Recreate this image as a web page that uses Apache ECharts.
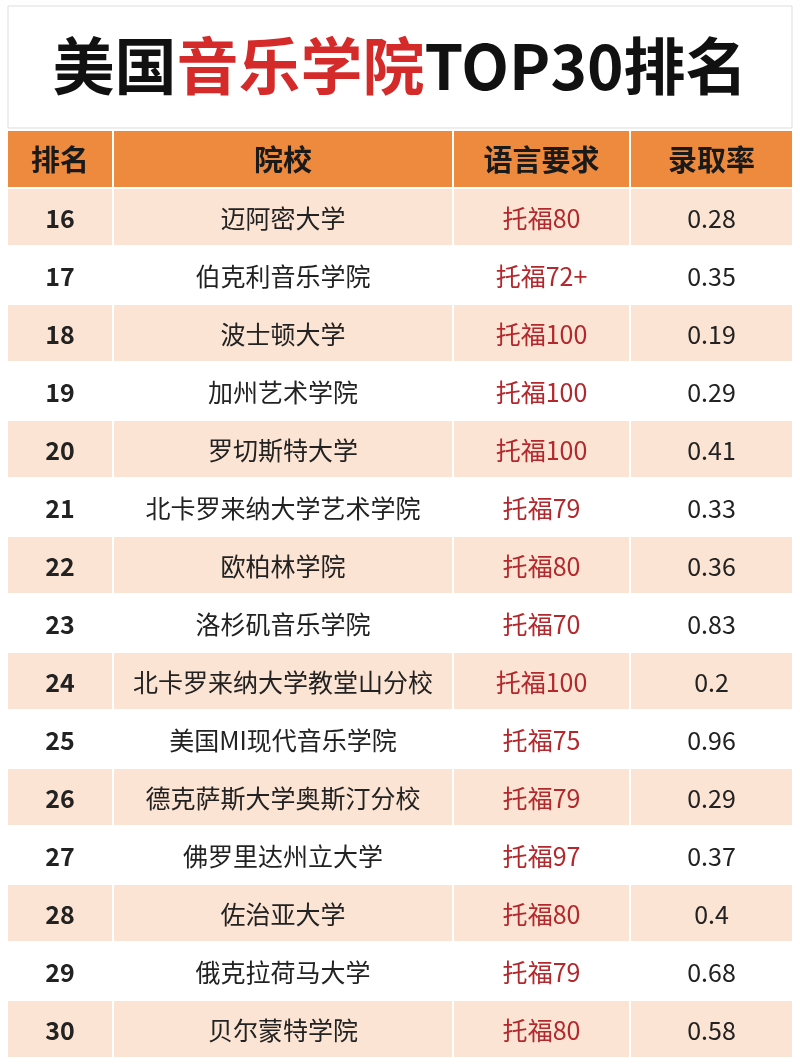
<!DOCTYPE html><html><head><meta charset="utf-8"><script src="https://cdn.jsdelivr.net/npm/echarts@6/dist/echarts.min.js"></script>
<style>body{margin:0}#c{width:800px;height:1064px}</style></head><body><div id="c"></div><script>
const headers=['排名','院校','语言要求','录取率'];
const ranks=['16','17','18','19','20','21','22','23','24','25','26','27','28','29','30'];
const schools=['迈阿密大学','伯克利音乐学院','波士顿大学','加州艺术学院','罗切斯特大学','北卡罗来纳大学艺术学院','欧柏林学院','洛杉矶音乐学院','北卡罗来纳大学教堂山分校','美国MI现代音乐学院','德克萨斯大学奥斯汀分校','佛罗里达州立大学','佐治亚大学','俄克拉荷马大学','贝尔蒙特学院'];
const language=['托福80','托福72+','托福100','托福100','托福100','托福79','托福80','托福70','托福100','托福75','托福79','托福97','托福80','托福79','托福80'];
const rates=['0.28','0.35','0.19','0.29','0.41','0.33','0.36','0.83','0.2','0.96','0.29','0.37','0.4','0.68','0.58'];

const colEdges=[0,104,444,621,784];
const rows=['h'].concat(ranks);
const data=[];
headers.forEach((t,c)=>data.push({value:[c,0],label:t,kind:'h'}));
ranks.forEach((r,i)=>{
  [r,schools[i],language[i],rates[i]].forEach((t,c)=>data.push({value:[c,i+1],label:t,kind:'b',col:c,row:i}));
});
const chart=echarts.init(document.getElementById('c'));
chart.setOption({
  animation:false,
  title:{text:'{a|美国}{b|音乐学院}{a|TOP30排名}',left:'center',top:30,
    textStyle:{rich:{a:{fontSize:62,fontWeight:'bold',color:'#111',fontFamily:'Noto Sans CJK SC'},b:{fontSize:62,fontWeight:'bold',color:'#d42a2a',fontFamily:'Noto Sans CJK SC'}}}},
  graphic:[{type:'rect',shape:{x:8,y:6,width:784,height:122},style:{fill:'#fff',stroke:'#ddd',lineWidth:1},z:-1}],
  grid:{left:8,right:8,top:130,bottom:6},
  xAxis:{type:'value',min:0,max:784,show:false},
  yAxis:{type:'category',data:rows,inverse:true,show:false},
  series:[{type:'custom',data:data,
    renderItem:function(params,api){
      const d=data[params.dataIndex];
      const c=api.value(0), r=api.value(1);
      const p0=api.coord([colEdges[c],r]);
      const p1=api.coord([colEdges[c+1],r]);
      const h=api.size([0,1])[1];
      const x=p0[0]+(c>0?2:0), w=p1[0]-p0[0]-(c>0?2:0);
      const y=p0[1]-h/2+1, hh=h-2;
      let fill='#fff', color='#222', weight='normal', size=25;
      if(d.kind==='h'){fill='#ee8a3e';weight='bold';size=29;color='#1a1a1a';}
      else{
        fill=(d.row%2===0)?'#fce4d4':'#ffffff';
        if(d.col===0)weight='bold';
        if(d.col===2)color='#b3282c';
      }
      return {type:'group',children:[
        {type:'rect',shape:{x:x,y:y,width:w,height:hh},style:{fill:fill}},
        {type:'text',style:{text:d.label,x:x+w/2,y:p0[1]+1,align:'center',verticalAlign:'middle',
          fontSize:size,fontWeight:weight,fill:color,fontFamily:'Noto Sans CJK SC'}}
      ]};
    }}]
});
</script></body></html>
